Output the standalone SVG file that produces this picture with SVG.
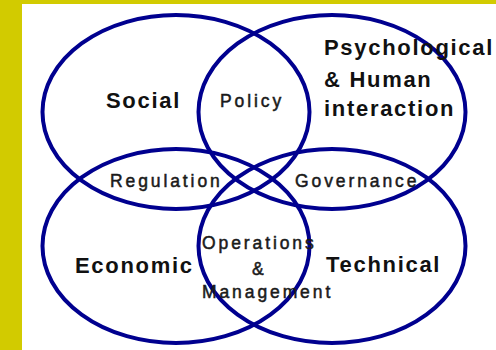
<svg xmlns="http://www.w3.org/2000/svg" width="496" height="350" viewBox="0 0 496 350">
<style>
.ring{fill:none;stroke:#00008f;stroke-width:4}
.big{font-family:"Liberation Sans",Arial,sans-serif;font-weight:bold;font-size:22px;letter-spacing:1.7px;fill:#111}
.small{font-family:"Liberation Sans",Arial,sans-serif;font-size:17.5px;letter-spacing:2.9px;fill:#1a1a1a;stroke:#1a1a1a;stroke-width:0.5}
</style>
<rect x="0" y="0" width="496" height="350" fill="#d2cb00"/>
<rect x="22" y="4" width="474" height="346" fill="#ffffff"/>
<g id="connectors"></g>
<g id="social"><ellipse class="ring" cx="176" cy="112" rx="133.5" ry="97"/></g>
<g id="psychological"><ellipse class="ring" cx="332" cy="112" rx="133.5" ry="97"/></g>
<g id="economic"><ellipse class="ring" cx="176" cy="246" rx="133.5" ry="97"/></g>
<g id="technical"><ellipse class="ring" cx="332" cy="246" rx="133.5" ry="97"/></g>
<g id="labels">
<text class="big" x="106" y="108">Social</text>
<text class="big" x="324" y="55">Psychological</text>
<text class="big" x="324" y="87">&amp; Human</text>
<text class="big" x="324" y="116">interaction</text>
<text class="big" x="75" y="273">Economic</text>
<text class="big" x="326" y="272">Technical</text>
<text class="small" x="220" y="107">Policy</text>
<text class="small" x="110" y="187">Regulation</text>
<text class="small" x="295" y="187">Governance</text>
<text class="small" x="202" y="249">Operations</text>
<text class="small" x="252" y="275">&amp;</text>
<text class="small" x="202" y="298">Management</text>
</g>
</svg>
